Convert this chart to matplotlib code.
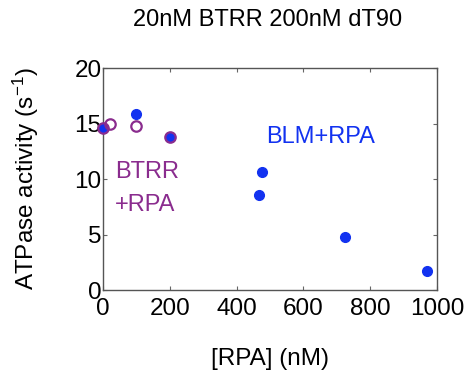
import matplotlib
matplotlib.use("Agg")
from matplotlib import pyplot as plt

plt.rcParams['font.family'] = ['Liberation Sans', 'DejaVu Sans']
plt.rcParams['mathtext.fontset'] = 'custom'
plt.rcParams['mathtext.rm'] = 'Liberation Sans'
plt.rcParams['mathtext.it'] = 'Liberation Sans'

# BLM + RPA (filled blue)
blm_rpa = [0, 100, 200, 467, 476, 725, 971]
blm_atpase = [14.6, 15.9, 13.8, 8.6, 10.6, 4.8, 1.7]

# BTRR + RPA (open purple)
btrr_rpa = [0, 20, 100, 200]
btrr_atpase = [14.6, 15.0, 14.8, 13.8]

xticks = [0, 200, 400, 600, 800, 1000]
yticks = [0, 5, 10, 15, 20]

blue = '#1232f0'
purple = '#8a2c8e'

fig = plt.figure(figsize=(4.65, 3.72), dpi=100)
ax = fig.add_axes([0.2215, 0.2204, 0.7185, 0.5968])

ax.plot(blm_rpa, blm_atpase, 'o', color=blue, markersize=7, clip_on=False, zorder=3)
ax.plot(btrr_rpa, btrr_atpase, 'o', mfc='none', mec=purple, mew=1.6,
        markersize=7.5, clip_on=False, zorder=4)

ax.set_xlim(0, 1000)
ax.set_ylim(0, 20)
ax.set_xticks(xticks)
ax.set_yticks(yticks)
ax.tick_params(direction='in', length=3, width=0.8, color='#666666',
               top=True, right=True, labelsize=17.5)
ax.tick_params(axis='x', pad=6)
ax.tick_params(axis='y', pad=1)
for s in ax.spines.values():
    s.set_color('#555555')
    s.set_linewidth(1.0)

ax.set_xlabel('[RPA] (nM)', fontsize=17.5, labelpad=20)
ax.set_ylabel('ATPase activity (s$^{\\mathrm{-1}}$)', fontsize=17.5, labelpad=24)

ax.text(650, 13.8, 'BLM+RPA', color=blue, fontsize=17, ha='center', va='center')
ax.text(36, 10.65, 'BTRR', color=purple, fontsize=17, ha='left', va='center')
ax.text(36, 7.66, '+RPA', color=purple, fontsize=17, ha='left', va='center')

fig.text(268 / 465, 1 - 20 / 372, '20nM BTRR 200nM dT90', fontsize=17,
         ha='center', va='center')

plt.savefig('out.png', dpi=100)
